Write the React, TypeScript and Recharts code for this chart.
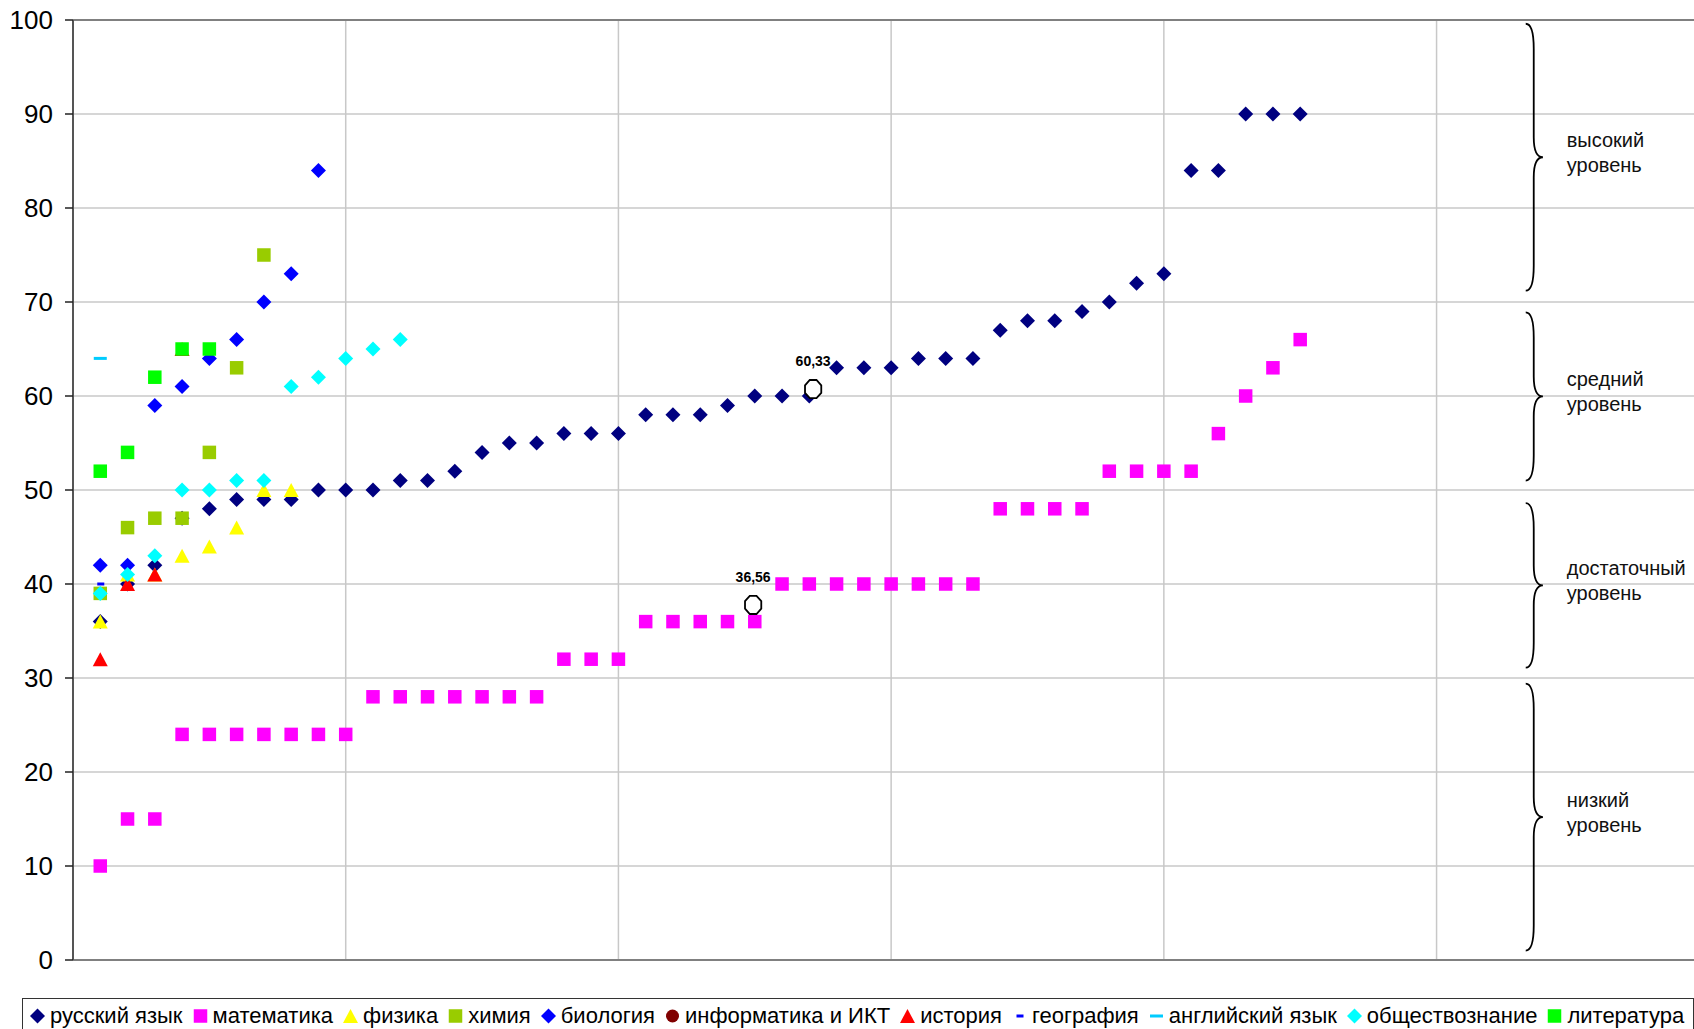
import React from 'react';
import {
  ScatterChart,
  Scatter,
  XAxis,
  YAxis,
  CartesianGrid,
  ReferenceLine,
  ReferenceArea,
  Legend,
} from 'recharts';

// ---------- data ----------
const russian = [36, 40, 42, 47, 48, 49, 49, 49, 50, 50, 50, 51, 51, 52, 54, 55, 55, 56, 56, 56, 58, 58, 58, 59, 60, 60, 60, 63, 63, 63, 64, 64, 64, 67, 68, 68, 69, 70, 72, 73, 84, 84, 90, 90, 90];
const math = [10, 15, 15, 24, 24, 24, 24, 24, 24, 24, 28, 28, 28, 28, 28, 28, 28, 32, 32, 32, 36, 36, 36, 36, 36, 40, 40, 40, 40, 40, 40, 40, 40, 48, 48, 48, 48, 52, 52, 52, 52, 56, 60, 63, 66];
const physics = [36, 41, 41, 43, 44, 46, 50, 50];
const chemistry = [39, 46, 47, 47, 54, 63, 75];
const biology = [42, 42, 59, 61, 64, 66, 70, 73, 84];
const informatics: number[] = [];
const history = [32, 40, 41, 65];
const geography = [40];
const english = [64];
const social = [39, 41, 43, 50, 50, 51, 51, 61, 62, 64, 65, 66];
const literature = [52, 54, 62, 65, 65];

const seriesNames = [
  'русский язык',
  'математика',
  'физика',
  'химия',
  'биология',
  'информатика и ИКТ',
  'история',
  'география',
  'английский язык',
  'обществознание',
  'литература',
];

// average markers (position) and their labels
const avgX = [27.14, 24.94];
const avgY = [60.74, 37.77];
const avgLabels = ['60,33', '36,56'];

// level braces
const levelTop = [99.6, 68.9, 48.6, 29.4];
const levelBottom = [71.2, 51.0, 31.1, 1.0];
const levelLine1 = ['высокий', 'средний', 'достаточный', 'низкий'];
const levelLine2 = ['уровень', 'уровень', 'уровень', 'уровень'];

const yTicks = [0, 10, 20, 30, 40, 50, 60, 70, 80, 90, 100];
const xTicks = [0, 10, 20, 30, 40, 50];
const xMax = 59.44;

// ---------- helpers ----------
const toPoints = (vals: number[]) => vals.map((v, i) => ({ x: i + 1, y: v }));

type MarkerKind = 'diamond' | 'square' | 'triangle' | 'circle' | 'dashShort' | 'dashLong';

const drawMarker = (kind: MarkerKind, cx: number, cy: number, color: string) => {
  switch (kind) {
    case 'diamond':
      return <polygon points={`${cx},${cy - 7.5} ${cx + 7.5},${cy} ${cx},${cy + 7.5} ${cx - 7.5},${cy}`} fill={color} />;
    case 'square':
      return <rect x={cx - 6.75} y={cy - 6.75} width={13.5} height={13.5} fill={color} />;
    case 'triangle':
      return <polygon points={`${cx},${cy - 7} ${cx + 7.5},${cy + 7} ${cx - 7.5},${cy + 7}`} fill={color} />;
    case 'circle':
      return <circle cx={cx} cy={cy} r={6.5} fill={color} />;
    case 'dashShort':
      return <rect x={cx - 3} y={cy - 1.5} width={7} height={3} fill={color} />;
    case 'dashLong':
      return <rect x={cx - 6.5} y={cy - 1.5} width={13} height={3} fill={color} />;
  }
  return null;
};

const seriesStyle: { color: string; kind: MarkerKind }[] = [
  { color: '#000080', kind: 'diamond' },
  { color: '#FF00FF', kind: 'square' },
  { color: '#FFFF00', kind: 'triangle' },
  { color: '#99CC00', kind: 'square' },
  { color: '#0000FF', kind: 'diamond' },
  { color: '#800000', kind: 'circle' },
  { color: '#FF0000', kind: 'triangle' },
  { color: '#0000FF', kind: 'dashShort' },
  { color: '#00CCFF', kind: 'dashLong' },
  { color: '#00FFFF', kind: 'diamond' },
  { color: '#00FF00', kind: 'square' },
];

const seriesData = [russian, math, physics, chemistry, biology, informatics, history, geography, english, social, literature];

const avgData = avgX.map((x, i) => ({ x, y: avgY[i], label: avgLabels[i] }));

const levels = levelTop.map((t, i) => ({ top: t, bottom: levelBottom[i], l1: levelLine1[i], l2: levelLine2[i] }));

const FONT = '"Liberation Sans", Arial, sans-serif';

const Octagon = (props: any) => {
  const { cx, cy, payload } = props;
  if (cx == null || cy == null) return null;
  const rx = 8.8;
  const ry = 9.8;
  const pts: string[] = [];
  for (let k = 0; k < 8; k++) {
    const a = Math.PI / 8 + (k * Math.PI) / 4;
    pts.push(`${cx + rx * Math.cos(a)},${cy + ry * Math.sin(a)}`);
  }
  return (
    <g>
      <polygon points={pts.join(' ')} fill="#fff" stroke="#000" strokeWidth={1.8} />
      <text x={cx} y={cy - 23} textAnchor="middle" fontFamily={FONT} fontSize={14} fontWeight="bold" fill="#000">
        {payload.label}
      </text>
    </g>
  );
};

const makeBrace = (lvl: { l1: string; l2: string }) => (props: any) => {
  const { x, y, width, height } = props;
  const x0 = x;
  const xs = x + 8;
  const xt = x + width;
  const y0 = y;
  const y1 = y + height;
  const ym = y + height / 2;
  const d = `M ${x0} ${y0} Q ${xs} ${y0} ${xs} ${y0 + 25} L ${xs} ${ym - 20} Q ${xs} ${ym} ${xt} ${ym} Q ${xs} ${ym} ${xs} ${ym + 20} L ${xs} ${y1 - 25} Q ${xs} ${y1} ${x0} ${y1}`;
  return (
    <g>
      <path d={d} fill="none" stroke="#000" strokeWidth={1.8} />
      <text x={xs + 33} y={ym - 10} fontFamily={FONT} fontSize={20} fill="#111">
        {lvl.l1}
      </text>
      <text x={xs + 33} y={ym + 15} fontFamily={FONT} fontSize={20} fill="#111">
        {lvl.l2}
      </text>
    </g>
  );
};

const LegendBox = () => (
  <div
    style={{
      boxSizing: 'border-box',
      height: 31,
      borderTop: '1.5px solid #333',
      borderLeft: '1.5px solid #333',
      borderRight: '1.5px solid #333',
      display: 'flex',
      alignItems: 'center',
      paddingLeft: 7,
      paddingTop: 3,
      fontFamily: FONT,
      fontSize: 22,
      color: '#000',
      whiteSpace: 'nowrap',
      background: '#fff',
    }}
  >
    {seriesNames.map((name, i) => (
      <span key={name} style={{ display: 'inline-flex', alignItems: 'center', marginRight: 10 }}>
        <svg width={15} height={16} style={{ display: 'block' }}>
          {drawMarker(seriesStyle[i].kind, 7.5, 8, seriesStyle[i].color)}
        </svg>
        <span style={{ marginLeft: 5 }}>{name}</span>
      </span>
    ))}
  </div>
);

const gridX = (args: any) => {
  const xAxis = args && args.xAxis;
  if (xAxis && typeof xAxis.scale === 'function') {
    return xTicks.map((t) => xAxis.scale(t));
  }
  const off = args.offset;
  return xTicks.map((t) => off.left + (t / xMax) * off.width);
};

export default function App() {
  const W = 1694;
  const H = 1029;
  return (
    <div style={{ position: 'absolute', left: 0, top: 0, width: W, height: H, background: '#fff', overflow: 'hidden' }}>
      <ScatterChart width={W} height={H} margin={{ top: 20, right: 0, bottom: 0, left: 0 }}>
        <CartesianGrid stroke="#C8C8C8" strokeWidth={1.5} verticalCoordinatesGenerator={gridX} />
        <XAxis
          type="number"
          dataKey="x"
          domain={[0, xMax]}
          ticks={xTicks}
          tick={() => <g />}
          tickLine={false}
          axisLine={{ stroke: '#808080', strokeWidth: 2 }}
          height={38}
          allowDataOverflow
        />
        <YAxis
          type="number"
          dataKey="y"
          domain={[0, 100]}
          ticks={yTicks}
          width={73}
          tickSize={8}
          tickMargin={12}
          tick={{ fontSize: 26, fill: '#000', fontFamily: FONT }}
          tickLine={{ stroke: '#222', strokeWidth: 1.5 }}
          axisLine={{ stroke: '#555', strokeWidth: 2 }}
        />
        <ReferenceLine y={100} stroke="#808080" strokeWidth={2} />
        {levels.map((lvl, i) => (
          <ReferenceArea
            key={i}
            x1={53.27}
            x2={53.9}
            y1={lvl.bottom}
            y2={lvl.top}
            shape={makeBrace(lvl)}
          />
        ))}
        {seriesData.map((vals, i) => (
          <Scatter
            key={seriesNames[i]}
            name={seriesNames[i]}
            data={toPoints(vals)}
            isAnimationActive={false}
            fill={seriesStyle[i].color}
            shape={(p: any) => (p.cx == null ? null : drawMarker(seriesStyle[i].kind, p.cx, p.cy, seriesStyle[i].color))}
          />
        ))}
        <Scatter
          name="avg"
          data={avgData}
          isAnimationActive={false}
          legendType="none"
          shape={(p: any) => <Octagon {...p} />}
        />
        <Legend
          verticalAlign="bottom"
          align="left"
          wrapperStyle={{ left: 22, bottom: 0, width: 1672 }}
          content={() => <LegendBox />}
        />
      </ScatterChart>
    </div>
  );
}
